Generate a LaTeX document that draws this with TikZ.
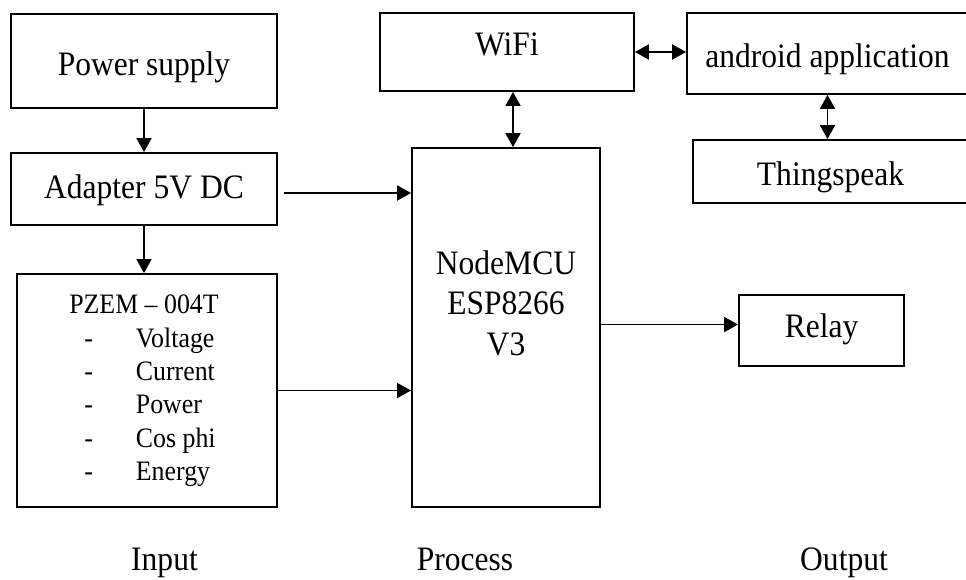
\documentclass[tikz,border=0pt]{standalone}
\usepackage{fontspec}
\setmainfont{Liberation Serif}[FakeStretch=0.92]
\usetikzlibrary{arrows.meta}
\tikzset{block/.style={draw,rectangle,line width=1.1pt,inner sep=0pt,align=center,font=\fontsize{19.5}{23}\selectfont},
	textdrop/.style={text height=#1,text depth=0pt},
	link/.style={line width=1.1pt,-{Triangle[length=0.28cm,width=0.3cm]}},
	duallink/.style={line width=1.1pt,{Triangle[length=0.28cm,width=0.3cm]}-{Triangle[length=0.28cm,width=0.3cm]}},
	stage/.style={anchor=base,font=\fontsize{19.5}{23}\selectfont}}
\newcommand{\blocknode}[4][]{\node[block,#1] at (#2) (#3) {#4}}

\begin{document}
\begin{tikzpicture}[x=0.02cm,y=-0.02cm]
			\useasboundingbox (0,0) rectangle (966,579);
			% input
			\blocknode[minimum width=5.32cm,minimum height=1.88cm,textdrop=0.56cm]{144,61}{power}{Power supply};
			\blocknode[minimum width=5.32cm,minimum height=1.44cm,textdrop=0.36cm]{144,189}{adapter}{Adapter 5V DC};
			\blocknode[minimum width=5.2cm,minimum height=4.66cm,font=\fontsize{16}{19}\selectfont]{147,390.5}{pzem}{%
				\hspace*{-0.12cm}\begin{tabular}{@{\hspace{0.3cm}}l@{\hspace{0.86cm}}l@{}}
					\multicolumn{2}{@{}c@{}}{PZEM -- 004T}\\
					- & Voltage\\
					- & Current\\
					- & Power\\
					- & Cos phi\\
					- & Energy
			\end{tabular}};
			% process
			\blocknode[minimum width=3.76cm,minimum height=7.18cm,
			label={[yshift=0.49cm,align=center,font=\fontsize{19.5}{23}\selectfont]center:NodeMCU\\ESP8266\\V3}]{506,327.5}{mcu}{};
			\blocknode[minimum width=5.08cm,minimum height=1.56cm,textdrop=0.12cm]{507,52}{wifi}{WiFi};
			% output
			\blocknode[minimum width=5.62cm,minimum height=1.62cm,textdrop=0.54cm]{827.5,53.5}{android}{android application};
			\blocknode[minimum width=5.5cm,minimum height=1.26cm,textdrop=0.54cm]{830.5,171.5}{thing}{Thingspeak};
			\blocknode[minimum width=3.3cm,minimum height=1.42cm,textdrop=0.26cm]{821.5,330.5}{relay}{Relay};
			%           \blocknode{500,250}{lcd}{LCD};
			\coordinate (feed) at ([xshift=0.12cm,yshift=-0.08cm]adapter.east);
			\coordinate (out) at ([yshift=0.12cm]relay.west);
			\coordinate (up) at ([xshift=0.12cm]wifi.south);
			\draw[link] (power) -- (adapter);
			\draw[link] (adapter.south) -- (adapter.south |- pzem.north);
			\draw[link] (feed) -- (feed -| mcu.west);
			\draw[link] (pzem.east) -- (pzem.east -| mcu.west);
			\draw[link] (out -| mcu.east) -- (out);
			\draw[duallink] (up) -- (up |- mcu.north);
			\draw[duallink] (wifi.east) -- (wifi.east -| android.west);
			\draw[duallink] (android.south) -- (android.south |- thing.north);
			% stage names
			\node[stage] (input) at (164.5,570) {Input};
			\node[stage] (process) at (465,570) {Process};
			\node[stage] (output) at (844,570) {Output};
\end{tikzpicture}
\end{document}
